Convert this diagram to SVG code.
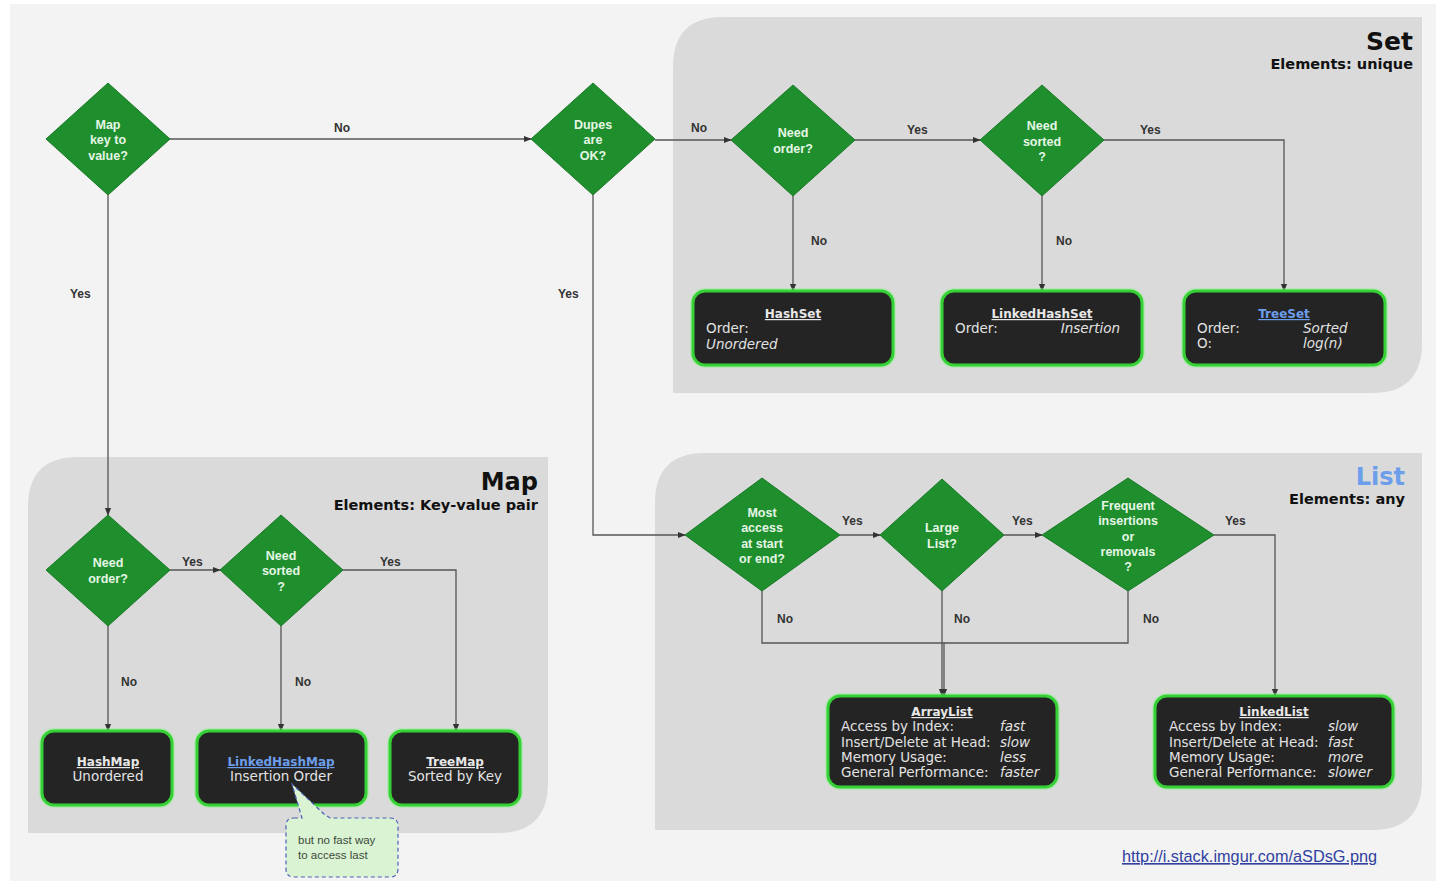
<svg xmlns="http://www.w3.org/2000/svg" width="1436" height="881" viewBox="0 0 1436 881">
<defs>
<style>
.panel{fill:#dadada}
.dia{fill:#1f8f2e;stroke:#197a27;stroke-width:1}
.dt{font-family:"Liberation Sans",Arial,sans-serif;font-weight:bold;font-size:12.5px;fill:#e6f6e6;text-anchor:middle}
.box{fill:#242424;stroke:#34d034;stroke-width:3}
.glow{fill:none;stroke:#8af58a;stroke-width:6;opacity:0.45}
.bt{font-family:"DejaVu Sans",Verdana,sans-serif;font-size:13.5px;fill:#e2e2e2}
.btit{font-family:"DejaVu Sans",Verdana,sans-serif;font-size:12px;font-weight:bold;fill:#e8e8e8;text-decoration:underline;text-anchor:middle}
.it{font-style:italic}
.mid{text-anchor:middle}
.lbl{font-family:"Liberation Sans",Arial,sans-serif;font-weight:bold;font-size:12px;fill:#333}
.hd{font-family:"DejaVu Sans",Verdana,sans-serif;font-weight:bold;text-anchor:end;fill:#111}
.conn{fill:none;stroke:#555;stroke-width:1.3}
</style>
<marker id="arr" viewBox="0 0 10 10" refX="9" refY="5" markerWidth="6" markerHeight="6" orient="auto">
<path d="M0,1 L10,5 L0,9 z" fill="#333"/>
</marker>
</defs>
<rect x="0" y="0" width="1436" height="881" fill="#ffffff"/>
<rect x="10" y="4" width="1426" height="877" fill="#f3f3f3"/>

<g id="panel-set">
<path class="panel" d="M723,17 H1422 V343 Q1422,393 1372,393 H673 V67 Q673,17 723,17 Z"/>
<text class="hd" x="1413" y="50" font-size="25">Set</text>
<text class="hd" x="1413" y="69" font-size="14.5">Elements: unique</text>
</g>
<g id="panel-map">
<path class="panel" d="M78,457 H548 V783 Q548,833 498,833 H28 V507 Q28,457 78,457 Z"/>
<text class="hd" x="538" y="490" font-size="24">Map</text>
<text class="hd" x="538" y="510" font-size="14.5">Elements: Key-value pair</text>
</g>
<g id="panel-list">
<path class="panel" d="M705,453 H1422 V780 Q1422,830 1372,830 H655 V503 Q655,453 705,453 Z"/>
<text class="hd" x="1405" y="485" font-size="24" style="fill:#6d9eeb">List</text>
<text class="hd" x="1405" y="504" font-size="14.5">Elements: any</text>
</g>

<g id="connectors">
<path class="conn" d="M170,139 H531" marker-end="url(#arr)"/>
<text class="lbl" x="334" y="132">No</text>
<path class="conn" d="M108,195 V515" marker-end="url(#arr)"/>
<text class="lbl" x="70" y="298">Yes</text>
<path class="conn" d="M655,140 H731" marker-end="url(#arr)"/>
<text class="lbl" x="691" y="132">No</text>
<path class="conn" d="M593,195 V535 H685" marker-end="url(#arr)"/>
<text class="lbl" x="558" y="298">Yes</text>
<path class="conn" d="M855,140 H980" marker-end="url(#arr)"/>
<text class="lbl" x="907" y="134">Yes</text>
<path class="conn" d="M793,196 V291" marker-end="url(#arr)"/>
<text class="lbl" x="811" y="245">No</text>
<path class="conn" d="M1104,140 H1284 V291" marker-end="url(#arr)"/>
<text class="lbl" x="1140" y="134">Yes</text>
<path class="conn" d="M1042,196 V291" marker-end="url(#arr)"/>
<text class="lbl" x="1056" y="245">No</text>
<path class="conn" d="M170,570 H220" marker-end="url(#arr)"/>
<text class="lbl" x="182" y="566">Yes</text>
<path class="conn" d="M108,626 V731" marker-end="url(#arr)"/>
<text class="lbl" x="121" y="686">No</text>
<path class="conn" d="M281,626 V731" marker-end="url(#arr)"/>
<text class="lbl" x="295" y="686">No</text>
<path class="conn" d="M343,570 H456 V731" marker-end="url(#arr)"/>
<text class="lbl" x="380" y="566">Yes</text>
<path class="conn" d="M840,535 H880" marker-end="url(#arr)"/>
<text class="lbl" x="842" y="525">Yes</text>
<path class="conn" d="M1004,535 H1042" marker-end="url(#arr)"/>
<text class="lbl" x="1012" y="525">Yes</text>
<path class="conn" d="M1214,535 H1275 V696" marker-end="url(#arr)"/>
<text class="lbl" x="1225" y="525">Yes</text>
<path class="conn" d="M762,591 V643 H944 V696" marker-end="url(#arr)"/>
<path class="conn" d="M1128,591 V643 H944"/>
<path class="conn" d="M942,591 V696" marker-end="url(#arr)"/>
<text class="lbl" x="777" y="623">No</text>
<text class="lbl" x="954" y="623">No</text>
<text class="lbl" x="1143" y="623">No</text>
</g>

<g id="d-map-key">
<polygon class="dia" points="108,83 170,139 108,195 46,139"/>
<text class="dt" x="108" y="129">Map</text>
<text class="dt" x="108" y="144">key to</text>
<text class="dt" x="108" y="160">value?</text>
</g>
<g id="d-dupes">
<polygon class="dia" points="593,83 655,139 593,195 531,139"/>
<text class="dt" x="593" y="129">Dupes</text>
<text class="dt" x="593" y="144">are</text>
<text class="dt" x="593" y="160">OK?</text>
</g>
<g id="d-set-order">
<polygon class="dia" points="793,85 855,140 793,196 731,140"/>
<text class="dt" x="793" y="137">Need</text>
<text class="dt" x="793" y="153">order?</text>
</g>
<g id="d-set-sorted">
<polygon class="dia" points="1042,85 1104,140 1042,196 980,140"/>
<text class="dt" x="1042" y="130">Need</text>
<text class="dt" x="1042" y="146">sorted</text>
<text class="dt" x="1042" y="161">?</text>
</g>
<g id="d-map-order">
<polygon class="dia" points="108,515 170,570 108,626 46,570"/>
<text class="dt" x="108" y="567">Need</text>
<text class="dt" x="108" y="583">order?</text>
</g>
<g id="d-map-sorted">
<polygon class="dia" points="281,515 343,570 281,626 220,570"/>
<text class="dt" x="281" y="560">Need</text>
<text class="dt" x="281" y="575">sorted</text>
<text class="dt" x="281" y="591">?</text>
</g>
<g id="d-most-access">
<polygon class="dia" points="762,478 840,535 762,591 685,535"/>
<text class="dt" x="762" y="517">Most</text>
<text class="dt" x="762" y="532">access</text>
<text class="dt" x="762" y="548">at start</text>
<text class="dt" x="762" y="563">or end?</text>
</g>
<g id="d-large">
<polygon class="dia" points="942,479 1004,535 942,591 880,535"/>
<text class="dt" x="942" y="532">Large</text>
<text class="dt" x="942" y="548">List?</text>
</g>
<g id="d-frequent">
<polygon class="dia" points="1128,478 1214,535 1128,591 1042,535"/>
<text class="dt" x="1128" y="510">Frequent</text>
<text class="dt" x="1128" y="525">insertions</text>
<text class="dt" x="1128" y="541">or</text>
<text class="dt" x="1128" y="556">removals</text>
<text class="dt" x="1128" y="571">?</text>
</g>

<g id="b-hashset">
<rect class="glow" x="693" y="291" width="200" height="74" rx="12"/>
<rect class="box" x="693" y="291" width="200" height="74" rx="12"/>
<text class="btit" x="793" y="318">HashSet</text>
<text class="bt" x="706" y="333">Order:</text>
<text class="bt it" x="706" y="349">Unordered</text>
</g>
<g id="b-linkedhashset">
<rect class="glow" x="942" y="291" width="200" height="74" rx="12"/>
<rect class="box" x="942" y="291" width="200" height="74" rx="12"/>
<text class="btit" x="1042" y="318">LinkedHashSet</text>
<text class="bt" x="955" y="333">Order:</text>
<text class="bt it" x="1120" y="333" text-anchor="end">Insertion</text>
</g>
<g id="b-treeset">
<rect class="glow" x="1184" y="291" width="201" height="74" rx="12"/>
<rect class="box" x="1184" y="291" width="201" height="74" rx="12"/>
<text class="btit" x="1284" y="318" style="fill:#6d9eeb">TreeSet</text>
<text class="bt" x="1197" y="333">Order:</text>
<text class="bt it" x="1303" y="333">Sorted</text>
<text class="bt" x="1197" y="348">O:</text>
<text class="bt it" x="1303" y="348">log(n)</text>
</g>
<g id="b-hashmap">
<rect class="glow" x="42" y="731" width="130" height="74" rx="12"/>
<rect class="box" x="42" y="731" width="130" height="74" rx="12"/>
<text class="btit" x="108" y="766">HashMap</text>
<text class="bt mid" x="108" y="781">Unordered</text>
</g>
<g id="b-linkedhashmap">
<rect class="glow" x="197" y="731" width="169" height="74" rx="12"/>
<rect class="box" x="197" y="731" width="169" height="74" rx="12"/>
<text class="btit" x="281" y="766" style="fill:#6d9eeb">LinkedHashMap</text>
<text class="bt mid" x="281" y="781">Insertion Order</text>
</g>
<g id="b-treemap">
<rect class="glow" x="390" y="731" width="130" height="74" rx="12"/>
<rect class="box" x="390" y="731" width="130" height="74" rx="12"/>
<text class="btit" x="455" y="766">TreeMap</text>
<text class="bt mid" x="455" y="781">Sorted by Key</text>
</g>
<g id="b-arraylist">
<rect class="glow" x="828" y="696" width="229" height="91" rx="12"/>
<rect class="box" x="828" y="696" width="229" height="91" rx="12"/>
<text class="btit" x="942" y="716">ArrayList</text>
<text class="bt" x="841" y="731">Access by Index:</text>
<text class="bt it" x="1000" y="731">fast</text>
<text class="bt" x="841" y="747">Insert/Delete at Head:</text>
<text class="bt it" x="1000" y="747">slow</text>
<text class="bt" x="841" y="762">Memory Usage:</text>
<text class="bt it" x="1000" y="762">less</text>
<text class="bt" x="841" y="777">General Performance:</text>
<text class="bt it" x="1000" y="777">faster</text>
</g>
<g id="b-linkedlist">
<rect class="glow" x="1155" y="696" width="238" height="91" rx="12"/>
<rect class="box" x="1155" y="696" width="238" height="91" rx="12"/>
<text class="btit" x="1274" y="716">LinkedList</text>
<text class="bt" x="1169" y="731">Access by Index:</text>
<text class="bt it" x="1328" y="731">slow</text>
<text class="bt" x="1169" y="747">Insert/Delete at Head:</text>
<text class="bt it" x="1328" y="747">fast</text>
<text class="bt" x="1169" y="762">Memory Usage:</text>
<text class="bt it" x="1328" y="762">more</text>
<text class="bt" x="1169" y="777">General Performance:</text>
<text class="bt it" x="1328" y="777">slower</text>
</g>

<g id="callout">
<path d="M294,818 H302 L292,784 L324,814 L330,818 H390 Q398,818 398,826 V869 Q398,877 390,877 H294 Q286,877 286,869 V826 Q286,818 294,818 Z" fill="#daf3d3" stroke="#4a62b8" stroke-width="1.2" stroke-dasharray="4,3"/>
<text x="298" y="844" font-family="Liberation Sans,Arial,sans-serif" font-size="11.5" fill="#3a4a3a">but no fast way</text>
<text x="298" y="859" font-family="Liberation Sans,Arial,sans-serif" font-size="11.5" fill="#3a4a3a">to access last</text>
</g>

<text x="1122" y="862" font-family="Liberation Sans,Arial,sans-serif" font-size="16.3" fill="#3040a0" text-decoration="underline">http://i.stack.imgur.com/aSDsG.png</text>
</svg>
